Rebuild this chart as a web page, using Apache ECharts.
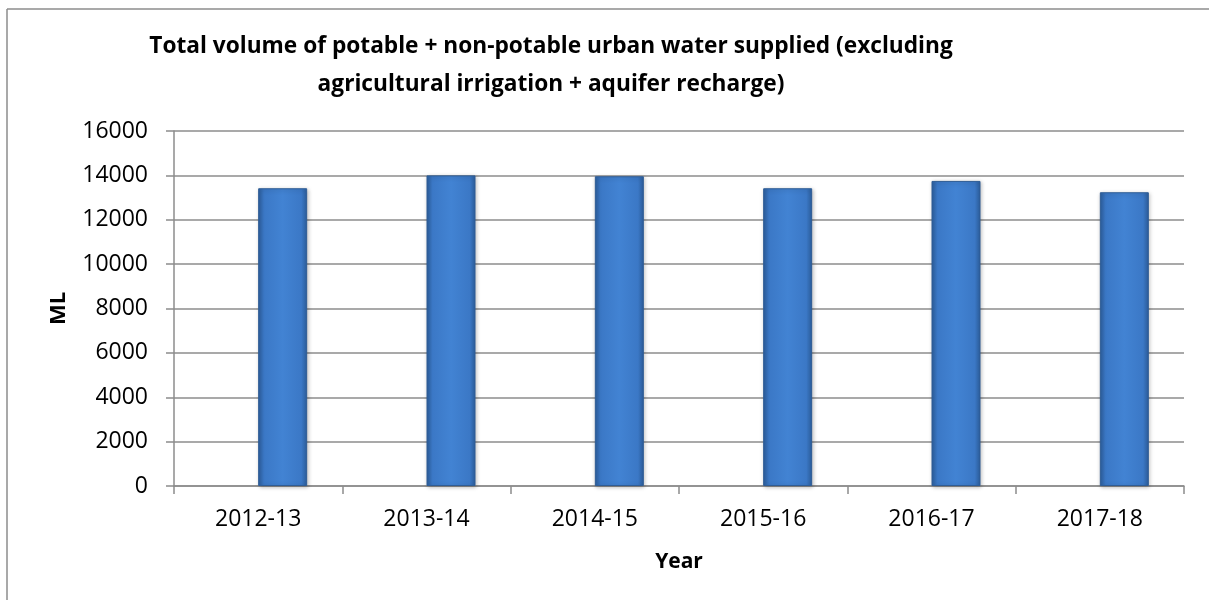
<!DOCTYPE html>
<html><head><meta charset="utf-8">
<script src="https://cdn.jsdelivr.net/npm/echarts@6/dist/echarts.min.js"></script>
<style>html,body{margin:0;padding:0;background:#fff}#c{width:1209px;height:600px}</style>
</head><body><div id="c"></div>
<script>
const categories = ['2012-13','2013-14','2014-15','2015-16','2016-17','2017-18'];
const values = [13420, 14000, 13960, 13420, 13750, 13240];
const emptySeries = [null, null, null, null, null, null];
const titleLines = ['Total volume of potable + non-potable urban water supplied (excluding','agricultural irrigation + aquifer recharge)'];
const font = '"Open Sans", sans-serif';
const chart = echarts.init(document.getElementById('c'));
chart.setOption({
  animation: false,
  title: {
    text: titleLines.join('\n'),
    left: 546, top: 23, textAlign: 'center',
    textStyle: {fontFamily: font, fontWeight: 'bold', fontSize: 22.7, color: '#000', lineHeight: 38}
  },
  graphic: [
    {type:'line', shape:{x1:7,y1:9,x2:1209,y2:9}, style:{stroke:'#8c8c8c', lineWidth:1.5}},
    {type:'line', shape:{x1:7,y1:9,x2:7,y2:600}, style:{stroke:'#8c8c8c', lineWidth:1.5}}
  ],
  grid: {left: 174, right: 25, top: 131, bottom: 114, containLabel: false},
  xAxis: {
    type: 'category', data: categories,
    name: 'Year', nameLocation: 'middle', nameGap: 66,
    nameTextStyle: {fontFamily: font, fontWeight: 'bold', fontSize: 21, color: '#000'},
    axisLine: {lineStyle: {color: '#8c8c8c', width: 1.5}},
    axisTick: {show: true, length: 8, alignWithLabel: false, lineStyle: {color: '#8c8c8c', width: 1.5}},
    axisLabel: {fontFamily: font, fontSize: 23, color: '#000', margin: 22}
  },
  yAxis: {
    type: 'value', min: 0, max: 16000, interval: 2000,
    name: 'ML', nameLocation: 'middle', nameGap: 104, nameRotate: 90,
    nameTextStyle: {fontFamily: font, fontWeight: 'bold', fontSize: 22, color: '#000'},
    axisLine: {show: true, lineStyle: {color: '#8c8c8c', width: 1.5}},
    axisTick: {show: true, length: 8, lineStyle: {color: '#8c8c8c', width: 1.5}},
    axisLabel: {fontFamily: font, fontSize: 23, color: '#000', margin: 26, formatter: v => String(v)},
    splitLine: {lineStyle: {color: '#8c8c8c', width: 1.5}}
  },
  series: [
  {type: 'bar', data: emptySeries, barWidth: 49, barGap: '0%'},
  {
    type: 'bar', data: values, barWidth: 49, barGap: '0%',
    itemStyle: {
      color: new echarts.graphic.LinearGradient(0,0,1,0,[
        {offset:0, color:'#2c5e9c'},
        {offset:0.12, color:'#3b78c6'},
        {offset:0.5, color:'#4283d3'},
        {offset:0.88, color:'#3b78c6'},
        {offset:1, color:'#2c5e9c'}
      ]),
      borderColor: '#2f5d96', borderWidth: 1,
      shadowColor: 'rgba(0,0,0,0.25)', shadowBlur: 4, shadowOffsetX: 1, shadowOffsetY: 1
    }
  }]
});
</script></body></html>
